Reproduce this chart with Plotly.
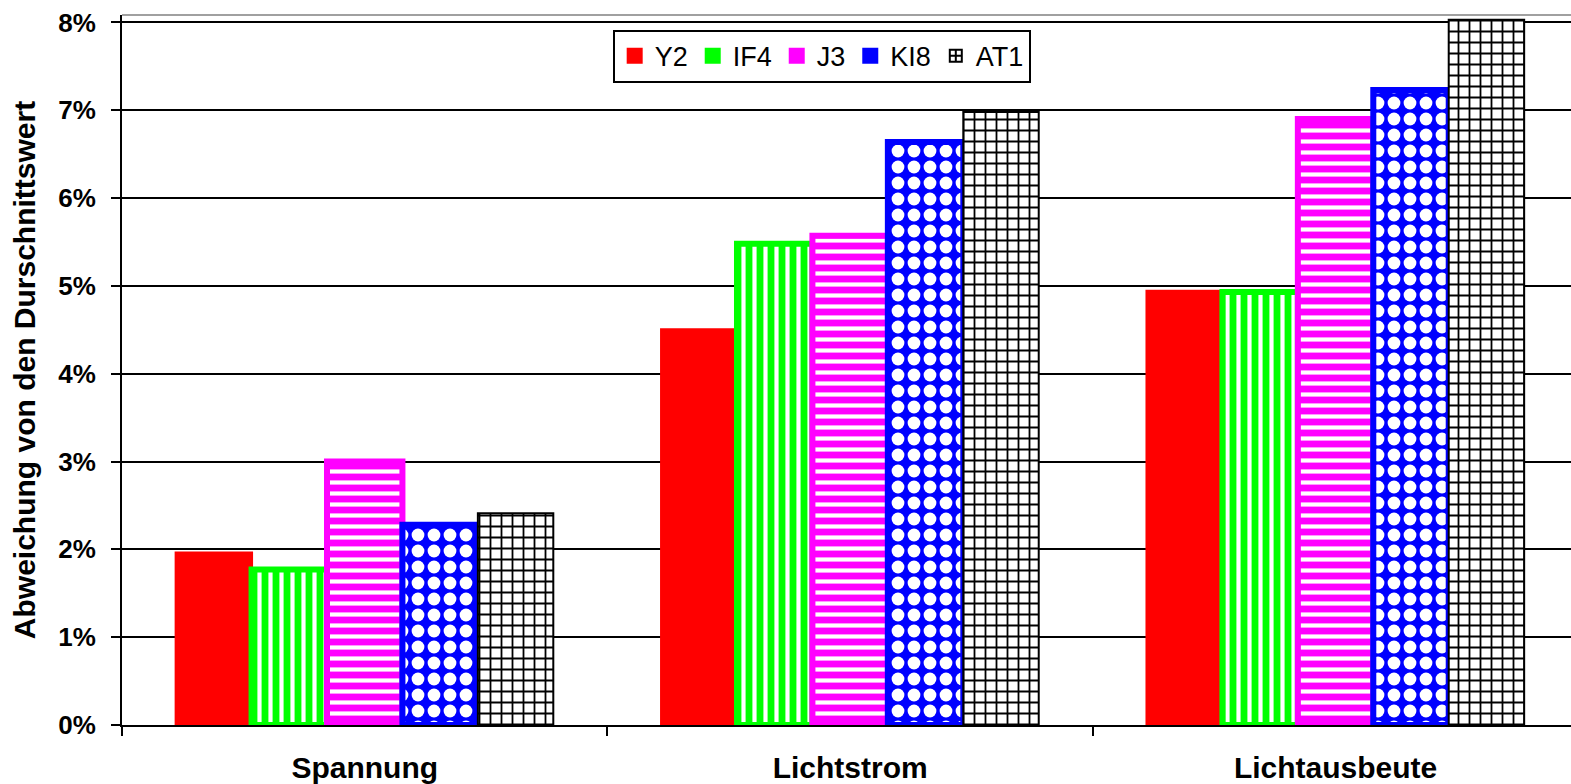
import plotly.graph_objects as go

categories = ["Spannung", "Lichtstrom", "Lichtausbeute"]
series_names = ["Y2", "IF4", "J3", "KI8", "AT1"]
y2 = [1.96, 4.50, 4.94]
if4 = [1.77, 5.48, 4.93]
j3 = [3.00, 5.57, 6.90]
ki8 = [2.28, 6.64, 7.23]
at1 = [2.41, 6.98, 8.03]
y_ticks = [0, 1, 2, 3, 4, 5, 6, 7, 8]
y_tick_labels = ["0%", "1%", "2%", "3%", "4%", "5%", "6%", "7%", "8%"]

values = [y2, if4, j3, ki8, at1]
colors = ["#FF0000", "#00FF00", "#FF00FF", "#0000FF", "#000000"]
patterns = [
    dict(shape=""),
    dict(shape="|", fgcolor="#FFFFFF", bgcolor="#00FF00", size=11, solidity=0.38, fillmode="replace"),
    dict(shape="-", fgcolor="#FFFFFF", bgcolor="#FF00FF", size=11, solidity=0.38, fillmode="replace"),
    dict(shape=".", fgcolor="#FFFFFF", bgcolor="#0000FF", size=16, solidity=0.5, fillmode="replace"),
    dict(shape="+", fgcolor="#000000", bgcolor="#FFFFFF", size=11, solidity=0.3, fillmode="replace"),
]
line_widths = [3, 6, 6, 6, 2]
legend_symbols = ["square", "square", "square", "square", "square-cross-open"]
legend_sizes = [22, 22, 22, 22, 12]

FONT = "Liberation Sans, Arial, sans-serif"

fig = go.Figure()
for name, vals, col, pat, lw in zip(series_names, values, colors, patterns, line_widths):
    fig.add_trace(go.Bar(
        x=categories, y=vals, name=name, showlegend=False,
        marker=dict(color=col if name != "AT1" else "#FFFFFF",
                    line=dict(color=col, width=lw), pattern=pat),
    ))
# legend proxies
for name, col, sym, sz in zip(series_names, colors, legend_symbols, legend_sizes):
    fig.add_trace(go.Scatter(
        x=[None], y=[None], mode="markers", name=name,
        marker=dict(symbol=sym, size=sz, color=col, line=dict(width=0 if sym == "square" else 2, color=col)),
    ))

fig.update_layout(
    width=1571, height=784,
    margin=dict(l=122, r=0, t=15, b=59, autoexpand=False),
    paper_bgcolor="white", plot_bgcolor="white",
    barmode="group", bargap=0.223, bargroupgap=0,
    font=dict(family=FONT, color="black"),
    legend=dict(
        orientation="h", xref="container", yref="container",
        x=0.39, y=0.962, xanchor="left", yanchor="top",
        bgcolor="white", bordercolor="black", borderwidth=2,
        font=dict(size=27, family=FONT, color="black"),
        itemwidth=30, tracegroupgap=0,
    ),
    xaxis=dict(
        range=[-0.5, 2.485], showgrid=False,
        showline=True, linecolor="black", linewidth=2,
        ticks="outside", tickson="boundaries", ticklen=9, tickwidth=2, tickcolor="black",
        tickfont=dict(size=30, family=FONT, color="black", weight="bold"),
        ticklabelstandoff=15,
    ),
    yaxis=dict(
        range=[0, 8.085], tickmode="array", tickvals=y_ticks, ticktext=y_tick_labels,
        showgrid=True, gridcolor="black", gridwidth=2,
        showline=True, linecolor="black", linewidth=2,
        ticks="outside", ticklen=9, tickwidth=2, tickcolor="black",
        tickfont=dict(size=26, family=FONT, color="black", weight="bold"),
        ticklabelstandoff=10,
        zeroline=False,
        title=dict(text="Abweichung von den Durschnittswert",
                   font=dict(size=30, family=FONT, color="black", weight="bold"),
                   standoff=14),
    ),
    shapes=[dict(type="line", xref="paper", yref="paper", x0=0, x1=1, y0=1, y1=1,
                 line=dict(color="#A0A0A0", width=2))],
)

fig.write_html("out.html")
